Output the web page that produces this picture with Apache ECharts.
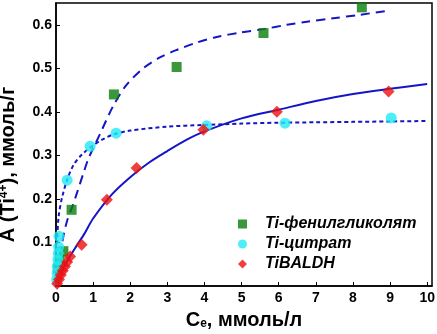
<!DOCTYPE html>
<html>
<head>
<meta charset="utf-8">
<script src="https://cdn.jsdelivr.net/npm/echarts@6/dist/echarts.min.js"></script>
<style>
  html, body { margin: 0; padding: 0; background: #fff; }
  #chart { width: 437px; height: 334px; }
</style>
</head>
<body>
<div id="chart"></div>
<script>
// measured points
const phenylX = [0.05, 0.1, 0.2, 0.42, 1.56, 3.25, 5.59, 8.24];
const phenylY = [0.04, 0.06, 0.08, 0.175, 0.44, 0.503, 0.581, 0.64];

const citrateX = [0.02, 0.03, 0.04, 0.05, 0.06, 0.07, 0.08, 0.3, 0.92, 1.62, 4.06, 6.17, 9.03];
const citrateY = [0.015, 0.03, 0.045, 0.06, 0.075, 0.09, 0.114, 0.243, 0.321, 0.351, 0.368, 0.374, 0.386];

const baldhX = [0.03, 0.08, 0.13, 0.18, 0.24, 0.3, 0.38, 0.69, 1.37, 2.17, 3.97, 5.95, 8.96];
const baldhY = [0.005, 0.015, 0.025, 0.035, 0.045, 0.055, 0.068, 0.095, 0.198, 0.271, 0.359, 0.4, 0.447];

// fit curves
const fitPhenylX = [0, 0.1, 0.2, 0.3, 0.43, 0.57, 0.75, 0.88, 1.19, 1.55, 1.9, 2.35, 2.8, 3.25, 3.79, 4.33, 4.96, 5.59, 6.22, 6.76, 7.47, 8.19, 9.0];
const fitPhenylY = [0, 0.065, 0.115, 0.15, 0.18, 0.215, 0.262, 0.294, 0.35, 0.415, 0.462, 0.5, 0.525, 0.542, 0.559, 0.572, 0.582, 0.59, 0.6, 0.607, 0.615, 0.623, 0.633];

const fitCitrateX = [0, 0.03, 0.07, 0.16, 0.3, 0.48, 0.7, 0.97, 1.24, 1.55, 2, 3, 4, 5, 6, 7, 8, 9, 10];
const fitCitrateY = [0, 0.1, 0.159, 0.202, 0.244, 0.279, 0.302, 0.321, 0.336, 0.348, 0.357, 0.366, 0.37, 0.373, 0.375, 0.376, 0.377, 0.378, 0.379];

const fitBaldhX = [0, 0.25, 0.5, 0.75, 1, 1.5, 2, 2.5, 3, 3.5, 4, 5, 6, 7, 8, 9, 10];
const fitBaldhY = [0, 0.05, 0.085, 0.118, 0.155, 0.21, 0.25, 0.283, 0.31, 0.335, 0.355, 0.385, 0.405, 0.425, 0.441, 0.453, 0.464];

const xTicksMax = 10;
const legendNames = ["Ti-фенилгликолят", "Ti-цитрат", "TiBALDH"];

const zip = (xs, ys) => xs.map((x, i) => [x, ys[i]]);

const lineBlue = "#1515c8";
const font = "Liberation Sans, Arial, sans-serif";

const chart = echarts.init(document.getElementById("chart"));

chart.setOption({
  animation: false,
  backgroundColor: "#fff",
  grid: {
    left: 56, right: 5, top: 3, bottom: 48,
    outerBoundsMode: "none", containLabel: false,
    show: true, borderColor: "#000", borderWidth: 1.5, backgroundColor: "transparent",
  },
  legend: {
    data: legendNames,
    orient: "vertical",
    left: 233, top: 211,
    itemWidth: 9, itemHeight: 9, itemGap: 4,
    textStyle: { fontFamily: font, fontSize: 16, fontWeight: "bold", fontStyle: "italic", color: "#000", padding: [0, 0, 0, 13] },
  },
  xAxis: {
    type: "value",
    min: 0, max: 10.13, interval: 1,
    name: "{b|C}{s|e}{b|, ммоль/л}",
    nameLocation: "middle",
    nameGap: 24,
    nameTextStyle: {
      rich: {
        b: { fontFamily: font, fontSize: 20, fontWeight: "bold", color: "#000" },
        s: { fontFamily: font, fontSize: 12, fontWeight: "bold", color: "#000", verticalAlign: "bottom", padding: [8, 0, 0, 0] },
      },
    },
    splitLine: { show: false },
    axisLine: { lineStyle: { color: "#000", width: 1.5 } },
    axisTick: { inside: true, length: 4, lineStyle: { color: "#000" } },
    axisLabel: {
      showMaxLabel: false,
      fontFamily: font, fontSize: 14, fontWeight: "bold", color: "#000", margin: 5,
      formatter: (v) => (v <= xTicksMax ? String(v) : ""),
    },
  },
  yAxis: {
    type: "value",
    min: 0, max: 0.65, interval: 0.1,
    name: "{b|A (Ti}{s|4+}{b|), ммоль/г}",
    nameLocation: "middle",
    nameGap: 38,
    nameRotate: 90,
    nameTextStyle: {
      padding: [0, 40, 0, 0],
      rich: {
        b: { fontFamily: font, fontSize: 20, fontWeight: "bold", color: "#000" },
        s: { fontFamily: font, fontSize: 12, fontWeight: "bold", color: "#000", verticalAlign: "top", padding: [0, 0, 8, 0] },
      },
    },
    splitLine: { show: false },
    axisLine: { lineStyle: { color: "#000", width: 1.5 } },
    axisTick: { inside: true, length: 4, lineStyle: { color: "#000" } },
    axisLabel: {
      showMinLabel: false, showMaxLabel: false,
      fontFamily: font, fontSize: 14, fontWeight: "bold", color: "#000", margin: 4,
      formatter: (v) => v.toFixed(1),
    },
  },
  series: [
    {
      name: "fit-phenyl", type: "line", data: zip(fitPhenylX, fitPhenylY),
      smooth: 0.3, symbol: "none",
      lineStyle: { color: lineBlue, width: 2, type: [9, 6] }, z: 2,
    },
    {
      name: "fit-citrate", type: "line", data: zip(fitCitrateX, fitCitrateY),
      smooth: 0.3, symbol: "none",
      lineStyle: { color: lineBlue, width: 2, type: [4, 3] }, z: 2,
    },
    {
      name: "fit-baldh", type: "line", data: zip(fitBaldhX, fitBaldhY),
      smooth: 0.3, symbol: "none",
      lineStyle: { color: lineBlue, width: 2 }, z: 2,
    },
    {
      name: legendNames[0], type: "scatter", data: zip(phenylX, phenylY),
      symbol: "rect", symbolSize: 10, itemStyle: { color: "#0a7d0a" }, z: 3,
    },
    {
      name: legendNames[1], type: "scatter", data: zip(citrateX, citrateY),
      symbol: "circle", symbolSize: 11, itemStyle: { color: "#22eaf5" }, z: 3,
    },
    {
      name: legendNames[2], type: "scatter", data: zip(baldhX, baldhY),
      symbol: "diamond", symbolSize: 12, itemStyle: { color: "#ee0f0f" }, z: 4,
    },
  ],
});
</script>
</body>
</html>
